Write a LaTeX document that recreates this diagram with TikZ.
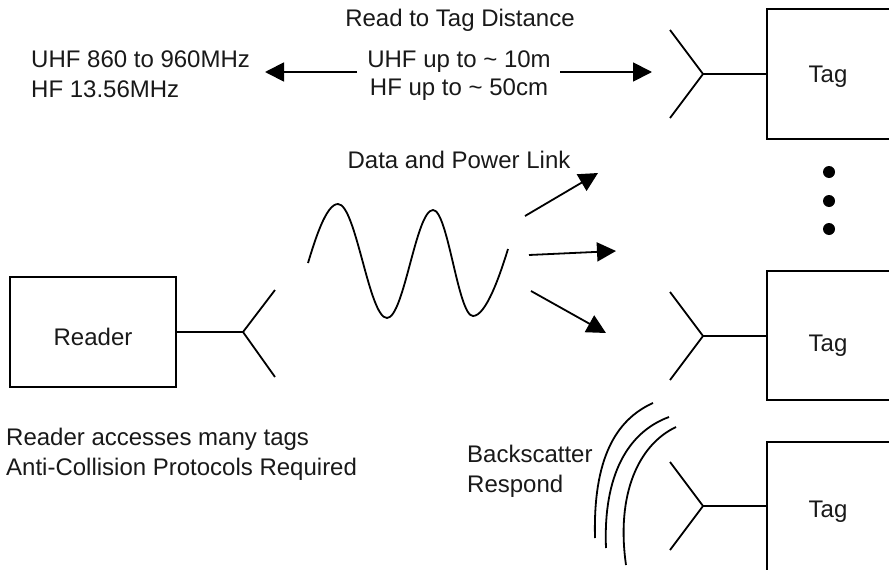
\documentclass[tikz,border=0pt]{standalone}
\usepackage{fontspec}
\setmainfont{Liberation Sans}
\usetikzlibrary{arrows.meta}
\begin{document}
\begin{tikzpicture}[x=1pt,y=-1pt,
  line/.style={line width=1.8pt, black},
  box/.style={draw=black, line width=1.8pt, rectangle, inner sep=0pt},
  txt/.style={font=\fontsize{24pt}{28pt}\selectfont, inner sep=0pt, text=black!90},
  arr/.style={line, -{Triangle[length=19pt,width=19pt]}},
  dotnode/.style={circle, fill=black, inner sep=0pt, minimum size=12pt}]
\useasboundingbox (0,0) rectangle (889,570);
\clip (0,0) rectangle (889,570);

% Reader
\node[box, minimum width=166pt, minimum height=110pt] (reader) at (93,332) {};
\node[txt, anchor=base] (readertxt) at (93,345) {Reader};
\coordinate (rv) at (243,332);
\coordinate (ra1) at (275,290);
\coordinate (ra2) at (275,377);
\draw[line] (reader.east) -- (rv);
\draw[line] (ra1) -- (rv) -- (ra2);

% Tag 1
\node[box, minimum width=124pt, minimum height=130pt] (tag1) at (829,74) {};
\node[txt, anchor=base] (tag1txt) at (828,82) {Tag};
\coordinate (t1v) at (703,74);
\coordinate (t1a) at (670,30);
\coordinate (t1b) at (670,118);
\draw[line] (t1v) -- (tag1.west);
\draw[line] (t1a) -- (t1v) -- (t1b);

% Tag 2
\node[box, minimum width=124pt, minimum height=129pt] (tag2) at (829,335.5) {};
\node[txt, anchor=base] (tag2txt) at (828,351) {Tag};
\coordinate (t2v) at (703,336);
\coordinate (t2a) at (670,292);
\coordinate (t2b) at (670,380);
\draw[line] (t2v) -- (t2v -| tag2.west);
\draw[line] (t2a) -- (t2v) -- (t2b);

% Tag 3
\node[box, minimum width=124pt, minimum height=140pt] (tag3) at (829,512) {};
\node[txt, anchor=base] (tag3txt) at (828,517) {Tag};
\coordinate (t3v) at (703,506);
\coordinate (t3a) at (670,462);
\coordinate (t3b) at (670,550);
\draw[line] (t3v) -- (t3v -| tag3.west);
\draw[line] (t3a) -- (t3v) -- (t3b);

% dots
\node[dotnode] (d1) at (829,172) {};
\node[dotnode] (d2) at (829,201) {};
\node[dotnode] (d3) at (829,229) {};

% top texts
\node[txt, anchor=base] (dist) at (460,26) {Read to Tag Distance};
\node[txt, anchor=base] (uhfr) at (459,67) {UHF up to \textasciitilde{} 10m};
\node[txt, anchor=base] (hfr) at (459,95) {HF up to \textasciitilde{} 50cm};
\node[txt, anchor=base west] (uhfb) at (31,67) {UHF 860 to 960MHz};
\node[txt, anchor=base west] (hfb) at (31,97) {HF 13.56MHz};
\coordinate (la1) at (357,72);
\coordinate (la2) at (265,72);
\coordinate (lb1) at (560,72);
\coordinate (lb2) at (652,72);
\draw[arr] (la1) -- (la2);
\draw[arr] (lb1) -- (lb2);

% data and power link
\node[txt, anchor=base] (dpl) at (459,168) {Data and Power Link};
\coordinate (p1s) at (525,216);
\coordinate (p1e) at (598,173);
\coordinate (p2s) at (529,255);
\coordinate (p2e) at (616,251);
\coordinate (p3s) at (531,291);
\coordinate (p3e) at (606,333);
\draw[arr] (p1s) -- (p1e);
\draw[arr] (p2s) -- (p2e);
\draw[arr] (p3s) -- (p3e);

% wave
\draw[line] (308,263) .. controls (315,240) and (326,204) .. (338,204)
  .. controls (356,204) and (369,318) .. (387,318)
  .. controls (404,318) and (416,210) .. (433,210)
  .. controls (448,210) and (458,316) .. (473,316)
  .. controls (486,316) and (500,275) .. (508,249);

% bottom texts
\node[txt, anchor=base west] (acc) at (6,445) {Reader accesses many tags};
\node[txt, anchor=base west] (anti) at (6,475) {Anti-Collision Protocols Required};
\node[txt, anchor=base west] (bs) at (467,462) {Backscatter};
\node[txt, anchor=base west] (resp) at (467,492) {Respond};

% backscatter arcs
\draw[line] (595,538) .. controls (593,460) and (615,420) .. (653,403);
\draw[line] (606,548) .. controls (603,475) and (628,432) .. (669,417);
\draw[line] (626,565) .. controls (616,495) and (638,445) .. (676,427);
\end{tikzpicture}
\end{document}
